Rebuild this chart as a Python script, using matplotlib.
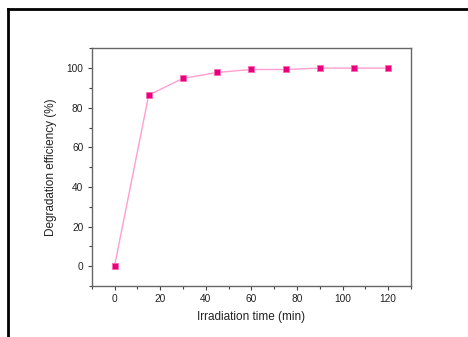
import matplotlib
matplotlib.use("Agg")
import matplotlib.pyplot as plt
from matplotlib.ticker import MultipleLocator
from matplotlib.lines import Line2D

plt.rcParams['font.family'] = ['Liberation Sans', 'DejaVu Sans']

time_min = [0, 15, 30, 45, 60, 75, 90, 105, 120]
efficiency = [0, 86.4, 94.8, 97.8, 99.3, 99.3, 100, 100, 100]

W, H = 468, 337
fig = plt.figure(figsize=(W / 100, H / 100), dpi=100)
fig.patch.set_facecolor('white')

# outer frame (top and left visible)
fig.add_artist(Line2D([8 / W, 8 / W], [0, 1 - 9 / H], color='black', lw=2, transform=fig.transFigure))
fig.add_artist(Line2D([8 / W, 1], [1 - 9 / H, 1 - 9 / H], color='black', lw=2, transform=fig.transFigure))

left, right, top, bottom = 91.7, 411, 48.3, 286
ax = fig.add_axes([left / W, 1 - bottom / H, (right - left) / W, (bottom - top) / H])

ax.plot(time_min, efficiency, color='#ff9fcf', lw=1.0, marker='s', markersize=5,
        markerfacecolor='#e8007d', markeredgecolor='#ff66b3', markeredgewidth=0.6)

ax.set_xlim(-10, 130)
ax.set_ylim(-10, 110)
ax.xaxis.set_major_locator(MultipleLocator(20))
ax.xaxis.set_minor_locator(MultipleLocator(10))
ax.yaxis.set_major_locator(MultipleLocator(20))
ax.yaxis.set_minor_locator(MultipleLocator(10))

for s in ax.spines.values():
    s.set_color('#666666')
    s.set_linewidth(1.0)

ax.tick_params(which='major', direction='out', length=3, width=0.8, color='#444444',
               labelsize=7.3, labelcolor='#222222', pad=3)
ax.tick_params(which='minor', direction='out', length=2, width=0.8, color='#444444')
ax.tick_params(top=False, right=False, which='both')

ax.set_xlabel('Irradiation time (min)', fontsize=8.5, color='#222222', labelpad=5)
ax.set_ylabel('Degradation efficiency (%)', fontsize=8.5, color='#222222', labelpad=7)

fig.savefig('out.png', dpi=100)
